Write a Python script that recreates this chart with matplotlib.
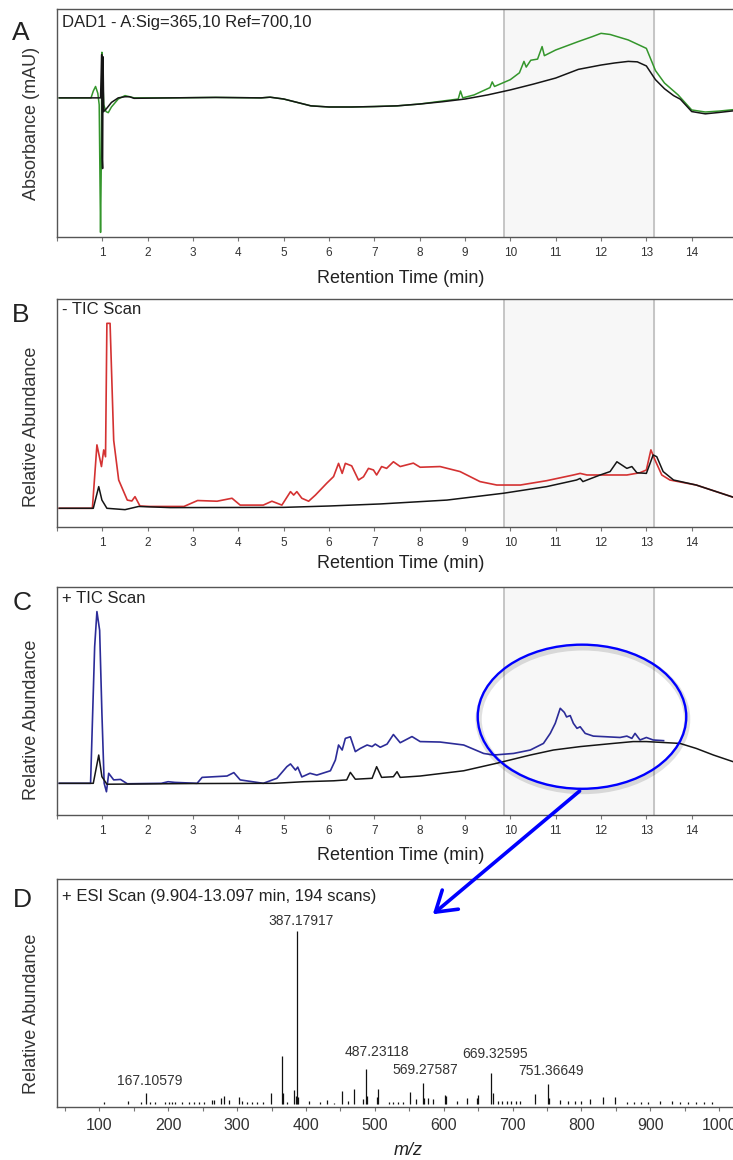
import matplotlib
matplotlib.use("Agg")
from matplotlib import pyplot as plt
from matplotlib.patches import Ellipse, FancyArrowPatch
from matplotlib.ticker import FixedLocator, FuncFormatter, MultipleLocator
import numpy as np

plt.rcParams['font.family'] = ['Liberation Sans', 'DejaVu Sans']

# ---- panel A: DAD trace (values in % of axis height)
a_black_x = [0.05, 0.5, 0.9, 0.96, 0.985, 0.995, 1.005, 1.015, 1.03, 1.1, 1.2, 1.35, 1.5, 1.6, 1.7,
             2.5, 3.5, 4.5, 4.7, 5.0, 5.3, 5.6, 6.0, 6.5, 7.0, 7.5, 8.0, 8.5, 9.0, 9.5, 10.0,
             10.5, 11.0, 11.5, 12.0, 12.3, 12.6, 12.8, 13.0, 13.2, 13.4, 13.6, 13.75, 14.0,
             14.3, 14.6, 15.0]
a_black_y = [61, 61, 61, 61, 80, 35, 30, 79, 55, 56.5, 59, 61, 61.5, 61.5, 60.8,
             61, 61.2, 61, 61.3, 60.5, 59, 57.5, 57, 57, 57.2, 57.5, 58.3, 59.3, 60.5, 62.3, 64.5,
             67, 69.7, 73.5, 75.4, 76.3, 77, 76.8, 75, 69, 65, 62, 60.4, 55,
             54, 54.6, 55.5]
a_green_x = [0.05, 0.75, 0.8, 0.85, 0.9, 0.93, 0.95, 0.96, 0.975, 0.99, 1.0, 1.03, 1.08, 1.13, 1.2,
             1.35, 1.5, 1.6, 1.7, 2.5, 3.5, 4.5, 4.7, 5.0, 5.3, 5.6, 6.0, 6.5, 7.0, 7.5, 8.0,
             8.5, 8.85, 8.9, 8.95, 9.2, 9.55, 9.6, 9.65, 10.0, 10.2, 10.3, 10.35, 10.45, 10.6,
             10.7, 10.75, 10.9, 11.0, 11.5, 11.8, 12.0, 12.2, 12.6, 13.0, 13.2, 13.4, 13.7,
             14.0, 14.3, 14.6, 15.0]
a_green_y = [61, 61, 64, 66, 63, 58, 20, 2, 30, 81, 75, 58, 55, 54.5, 57,
             60.5, 62, 61.5, 61, 61, 61.2, 61, 61.3, 60.5, 59, 57.5, 57, 57, 57.2, 57.5, 58.3,
             59.6, 60.5, 64, 61, 62.3, 65.5, 68, 66, 69, 72, 77, 74.5, 77.5, 78,
             83.5, 79.5, 81, 82, 85.7, 87.8, 89.3, 88.8, 86.4, 82.7, 73, 67.5, 62.3,
             55.7, 54.8, 55.2, 56]

# ---- panel B: negative TIC
b_red_x = [0.05, 0.78, 0.88, 0.98, 1.03, 1.07, 1.1, 1.17, 1.25, 1.36, 1.55, 1.65, 1.72, 1.83,
           2.05, 2.8, 3.1, 3.53, 3.86, 4.04, 4.55, 4.74, 4.96, 5.15, 5.22, 5.29, 5.4, 5.55,
           5.7, 5.95, 6.1, 6.21, 6.29, 6.36, 6.5, 6.65, 6.76, 6.87, 6.98, 7.05, 7.16, 7.27,
           7.42, 7.57, 7.86, 8.01, 8.45, 8.89, 9.33, 9.7, 10.22, 10.8, 11.39, 11.54, 11.69,
           12.13, 12.57, 12.86, 13.0, 13.1, 13.19, 13.34, 13.52, 14.1, 15.0]
b_red_y = [8.2, 8.2, 36, 26.5, 33.8, 30.8, 89.3, 89.3, 38, 20.6, 11.8, 11.4, 13.3, 9.2,
           9.0, 9.0, 11.6, 11.3, 12.6, 9.6, 9.6, 11.3, 9.6, 15.5, 14, 15.5, 12.6, 11.3,
           14, 19.2, 22.1, 27.9, 23.5, 27.9, 26.8, 20.6, 22, 25.7, 25, 22.8, 26.5, 25.7,
           28.6, 26.5, 28, 26.2, 26.5, 24.3, 19.9, 18.4, 18.4, 20.3, 22.8, 23.5, 22.8,
           22.8, 22.8, 23.8, 25, 33.8, 29.4, 22.8, 20.6, 18.4, 12.5]
b_black_x = [0.05, 0.8, 0.92, 0.99, 1.1, 1.5, 1.8, 2.5, 5.0, 6.0, 7.13, 8.6, 9.85, 10.8,
             11.46, 11.54, 11.6, 11.98, 12.2, 12.35, 12.57, 12.68, 12.79, 13.0, 13.15, 13.23,
             13.37, 13.6, 14.1, 15.0]
b_black_y = [8.2, 8.2, 17.7, 11.8, 8.2, 7.6, 9.0, 8.5, 8.6, 9.2, 10.1, 11.8, 14.8, 17.7,
             20.6, 21.3, 19.9, 22.8, 24.3, 28.6, 25.7, 26.5, 23.8, 23.5, 31.6, 30.8,
             24.3, 20.6, 18.4, 12.5]

# ---- panel C: positive TIC
c_blue_x = [0.05, 0.74, 0.83, 0.88, 0.94, 0.99, 1.04, 1.09, 1.14, 1.25, 1.4, 1.55, 2.3, 2.45,
            2.6, 3.09, 3.2, 3.75, 3.9, 4.04, 4.55, 4.85, 5.07, 5.15, 5.26, 5.31, 5.4, 5.58,
            5.73, 6.03, 6.14, 6.21, 6.29, 6.36, 6.47, 6.58, 6.69, 6.84, 6.95, 7.02, 7.13,
            7.28, 7.42, 7.57, 7.83, 8.01, 8.45, 8.97, 9.41, 9.63, 10.07, 10.44, 10.73, 10.88,
            10.99, 11.1, 11.19, 11.24, 11.32, 11.39, 11.47, 11.54, 11.65, 11.83, 12.13, 12.42,
            12.57, 12.68, 12.75, 12.86, 13.0, 13.15, 13.38]
c_blue_y = [13.9, 13.9, 73.8, 89.2, 81, 44.6, 13.9, 10.2, 18.3, 15.4, 15.6, 13.7, 13.9, 14.6,
            14.3, 13.9, 16.5, 17.1, 18.6, 15.4, 13.9, 16.1, 21.2, 22.4, 19.7, 21, 16.7, 18.3,
            17.5, 19.4, 24.1, 30.7, 28.5, 33.6, 34.3, 27.8, 29.2, 30.7, 30, 31.1, 29.7,
            31.1, 35.3, 31.7, 34.4, 32.2, 32, 30.7, 27, 26.3, 27, 28.5, 31.4, 35.8,
            40.2, 46.8, 45, 43, 43.6, 40.2, 38, 38.7, 35.8, 34.6, 34.3, 34,
            34.6, 33.6, 35.8, 32.9, 34, 32.9, 32.6]
c_black_x = [0.05, 0.8, 0.92, 0.99, 1.1, 3.0, 4.8, 5.44, 6.1, 6.39, 6.47, 6.58, 6.95, 7.05,
             7.16, 7.42, 7.5, 7.57, 8.01, 8.97, 9.7, 10.44, 10.95, 11.54, 12.27, 12.71, 13.0,
             13.74, 14.1, 14.48, 15.0]
c_black_y = [13.9, 13.9, 26.3, 16.8, 13.5, 13.8, 13.9, 14.6, 15, 15.4, 18.7, 15.7, 16.1, 21.2,
             16.5, 16.8, 19, 16.5, 17.1, 19.4, 22.7, 26.3, 28.5, 30, 31.4, 32.2, 32.2,
             31.4, 29.2, 26.3, 22.8]

# ---- panel D: mass spectrum
ms_mz = [106, 141, 160, 167.1, 174, 181, 196, 201, 206, 210, 220, 230, 237, 244, 252, 264, 267,
         276, 281, 288, 302.5, 307.5, 315, 322, 329, 337, 348.6, 365.2, 366.2, 373, 382.5,
         385.5, 387.18, 388.2, 404, 420, 430, 440, 452, 461.6, 470, 483.4, 487.23, 489, 503,
         505, 520, 527, 534, 541, 551, 560, 569.28, 571, 577.8, 585, 602, 604, 619, 633.6,
         648, 650, 669.33, 671, 679.5, 685, 692, 698, 704.5, 711, 733, 751.37, 753.4, 769,
         780, 790, 800, 812.6, 832, 849, 866, 876, 886, 896, 914.3, 931, 943, 955, 967, 978, 990]
ms_int = [1, 1.3, 0.7, 4.7, 1, 0.7, 0.8, 0.8, 0.8, 0.8, 0.7, 0.7, 0.7, 0.7, 0.7, 1.8, 1.8,
          2.5, 3.5, 1.7, 2.9, 1.5, 1, 1, 1, 1, 5, 21, 4.7, 1, 6.1,
          3.5, 75.9, 3, 1.5, 0.7, 1.7, 0.5, 5.5, 1.5, 6.5, 2, 15.4, 3.5, 3,
          6.8, 0.8, 0.8, 0.8, 0.8, 5.3, 2, 9.1, 2.5, 2.5, 2.3, 4, 3.5, 1.5, 2.5,
          2.5, 4, 13.5, 5, 1.5, 1.5, 1.2, 1.2, 1.2, 1.2, 4.5, 8.6, 2.6, 1.8,
          1.2, 1.2, 1.2, 2.2, 3, 3, 0.8, 0.8, 0.8, 0.8, 1.5, 1.5, 0.7, 0.7, 0.7, 0.7, 0.7]
ms_labels = ["167.10579", "387.17917", "487.23118", "569.27587", "669.32595", "751.36649"]
ms_label_offsets = [(3, 9), (3, 7), (8, 12.5), (2.3, 9.6), (2.7, 13.9), (2.4, 9.6)]

sel_start, sel_end = 9.87, 13.17

fig = plt.figure(figsize=(7.33, 11.6), dpi=100)
left, width, height = 0.0778, 0.9277, 0.1966
bottoms = [0.7957, 0.5457, 0.2974, 0.0457]
axes = [fig.add_axes([left, b, width, height]) for b in bottoms]

def style(ax):
    for s in ax.spines.values():
        s.set_color('#555555')
        s.set_linewidth(1.0)
    ax.set_yticks([])
    ax.tick_params(axis='x', direction='out', length=3, width=0.8, color='#777777')

def chrom(ax, title, ylabel, title_y, ylab_y, xlab_y):
    style(ax)
    ax.set_xlim(0, 15)
    ax.set_ylim(0, 100)
    ax.xaxis.set_major_locator(FixedLocator(range(0, 15)))
    ax.xaxis.set_major_formatter(FuncFormatter(lambda v, p: '' if v == 0 else '%d' % v))
    ax.tick_params(axis='x', labelsize=8.5, pad=4, labelcolor='#333333')
    ax.axvspan(sel_start, sel_end, color='#f7f7f7', zorder=0)
    ax.axvline(sel_start, color='#bdbdbd', lw=1.2, zorder=1)
    ax.axvline(sel_end, color='#bdbdbd', lw=1.2, zorder=1)
    ax.text(0.007, title_y, title, transform=ax.transAxes, fontsize=12, va='center', ha='left',
            color='#222222')
    ax.text(-0.037, ylab_y, ylabel, transform=ax.transAxes, fontsize=13, rotation=90,
            va='center', ha='center', color='#333333')
    ax.text(0.505, xlab_y, 'Retention Time (min)', transform=ax.transAxes, fontsize=13,
            va='center', ha='center', color='#222222')

axA, axB, axC, axD = axes
chrom(axA, 'DAD1 - A:Sig=365,10 Ref=700,10', 'Absorbance (mAU)', 0.94, 0.5, -0.18)
axA.plot(a_green_x, a_green_y, color='#34962c', lw=1.1, zorder=3)
axA.plot(a_black_x, a_black_y, color='#151515', lw=1.1, zorder=4)

chrom(axB, '- TIC Scan', 'Relative Abundance', 0.952, 0.44, -0.162)
axB.plot(b_red_x, b_red_y, color='#d43232', lw=1.2, zorder=3)
axB.plot(b_black_x, b_black_y, color='#151515', lw=1.1, zorder=4)

chrom(axC, '+ TIC Scan', 'Relative Abundance', 0.95, 0.417, -0.178)
axC.plot(c_blue_x, c_blue_y, color='#2c2c98', lw=1.2, zorder=3)
axC.plot(c_black_x, c_black_y, color='#151515', lw=1.1, zorder=4)

# selection ellipse with soft shadow
ell_sh = Ellipse((11.6, 42.0), 4.6, 63, fill=False, ec='#000000', lw=4.5, alpha=0.12, zorder=5)
axC.add_patch(ell_sh)
ell = Ellipse((11.58, 43.1), 4.6, 63.2, fill=False, ec='#0000ff', lw=1.7, zorder=6)
axC.add_patch(ell)

# panel D
style(axD)
axD.set_xlim(38.5, 1026)
axD.set_ylim(-1.3, 98.7)
axD.xaxis.set_major_locator(MultipleLocator(100))
axD.xaxis.set_minor_locator(MultipleLocator(50))
axD.tick_params(axis='x', which='both', length=3, width=0.8, color='#777777')
axD.tick_params(axis='x', labelsize=11.5, pad=5, labelcolor='#333333')
axD.vlines(ms_mz, 0, ms_int, color='#111111', lw=0.9)
for lab, off in zip(ms_labels, ms_label_offsets):
    mz = float(lab)
    i = int(np.argmin(np.abs(np.array(ms_mz) - mz)))
    axD.annotate(lab, (ms_mz[i], ms_int[i]), xytext=off, textcoords='offset points',
                 ha='center', va='center', fontsize=10, color='#333333')
axD.text(0.007, 0.925, '+ ESI Scan (9.904-13.097 min, 194 scans)', transform=axD.transAxes,
         fontsize=12, va='center', ha='left', color='#222222')
axD.text(-0.037, 0.408, 'Relative Abundance', transform=axD.transAxes, fontsize=13,
         rotation=90, va='center', ha='center', color='#333333')
axD.text(0.516, -0.19, 'm/z', transform=axD.transAxes, fontsize=13, style='italic',
         va='center', ha='center', color='#222222')

# panel letters
for letter, (lx, ly) in zip('ABCD', [(21, 33), (21, 315), (22, 603), (22, 900)]):
    fig.text(lx / 733, 1 - ly / 1160, letter, fontsize=19, ha='center', va='center',
             color='#222222')

# arrow from ellipse to spectrum
arrow = FancyArrowPatch((0.7936, 0.3196), (0.5876, 0.2103), transform=fig.transFigure,
                        arrowstyle='->,head_length=0.7,head_width=0.45', mutation_scale=20,
                        color='#0000ff', lw=2.6)
fig.add_artist(arrow)

fig.savefig('out.png', dpi=100)
